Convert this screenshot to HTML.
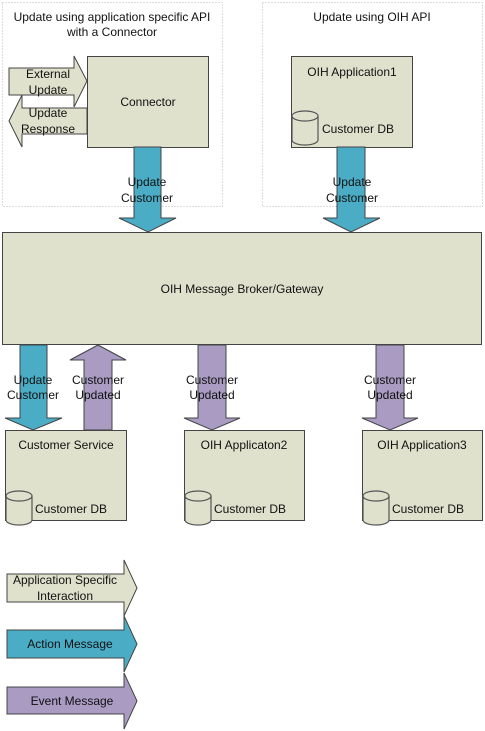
<!DOCTYPE html>
<html><head><style>body{margin:0;background:#fff}svg{display:block}text{font-family:"Liberation Sans",sans-serif;font-size:12px;fill:#111}</style></head>
<body>
<svg width="485" height="731" viewBox="0 0 485 731" xmlns="http://www.w3.org/2000/svg">
<g fill="none" stroke="#bbb" stroke-dasharray="1,2">
<rect x="2.5" y="2.5" width="220" height="204"/>
<rect x="262.5" y="2.5" width="220" height="204"/>
</g>
<g stroke="#444" stroke-width="1">
<polygon points="9,68 74,68 74,56 87,81 74,107 74,95 9,95" fill="#dfe1cc"/>
<polygon points="87,108 87,134 22,134 22,147 9,121 22,95 22,108" fill="#dfe1cc"/>
<rect x="87.5" y="56.5" width="121" height="91" fill="#dfe1cc"/>
<rect x="291.5" y="56.5" width="121" height="91" fill="#dfe1cc"/>
<polygon points="134,147 161,147 161,218 176,218 148,232 119,218 134,218" fill="#4bacc6"/>
<polygon points="337,147 365,147 365,218 380,218 351,232 323,218 337,218" fill="#4bacc6"/>
<rect x="2.5" y="232.5" width="479" height="112" fill="#dfe1cc"/>
<polygon points="20,345 47,345 47,418 62,418 33,430 5,418 20,418" fill="#4bacc6"/>
<polygon points="84,430 112,430 112,360 126,360 98,345 70,360 84,360" fill="#a99bc2"/>
<polygon points="198,345 226,345 226,418 240,418 212,430 184,418 198,418" fill="#a99bc2"/>
<polygon points="376,345 404,345 404,418 418,418 390,430 362,418 376,418" fill="#a99bc2"/>
<rect x="5.5" y="430.5" width="121" height="90" fill="#dfe1cc"/>
<rect x="184.5" y="430.5" width="120" height="90" fill="#dfe1cc"/>
<rect x="362.5" y="430.5" width="120" height="90" fill="#dfe1cc"/>
<polygon points="7,574 124,574 124,560 137,588 124,616 124,602 7,602" fill="#dfe1cc"/>
<polygon points="7,630 124,630 124,616 137,644 124,672 124,658 7,658" fill="#4bacc6"/>
<polygon points="7,687 124,687 124,673 137,701 124,729 124,714 7,714" fill="#a99bc2"/>
</g>
<g fill="#dfe1cc" stroke="#555" stroke-width="1.2">
<path d="M292,116 v24 a13,5 0 0 0 26,0 v-24"/><ellipse cx="305" cy="116" rx="13" ry="5"/>
<path d="M6,496 v24 a13,5 0 0 0 26,0 v-24"/><ellipse cx="19" cy="496" rx="13" ry="5"/>
<path d="M185,496 v24 a13,5 0 0 0 26,0 v-24"/><ellipse cx="198" cy="496" rx="13" ry="5"/>
<path d="M363,496 v24 a13,5 0 0 0 26,0 v-24"/><ellipse cx="376" cy="496" rx="13" ry="5"/>
</g>
<g text-anchor="middle">
<text x="112" y="21">Update using application specific API</text>
<text x="112" y="36">with a Connector</text>
<text x="372" y="21">Update using OIH API</text>
<text x="48" y="78">External</text><text x="48" y="94">Update</text>
<text x="48" y="117">Update</text><text x="48" y="133">Response</text>
<text x="148" y="106">Connector</text>
<text x="352" y="76">OIH Application1</text>
<text x="147" y="186">Update</text><text x="147" y="202">Customer</text>
<text x="352" y="186">Update</text><text x="352" y="202">Customer</text>
<text x="242" y="293">OIH Message Broker/Gateway</text>
<text x="33" y="384">Update</text><text x="33" y="399">Customer</text>
<text x="98" y="384">Customer</text><text x="98" y="399">Updated</text>
<text x="212" y="384">Customer</text><text x="212" y="399">Updated</text>
<text x="390" y="384">Customer</text><text x="390" y="399">Updated</text>
<text x="66" y="449">Customer Service</text>
<text x="244" y="449">OIH Applicaton2</text>
<text x="422" y="449">OIH Application3</text>
<text x="65" y="584">Application Specific</text>
<text x="65" y="600">Interaction</text>
<text x="70" y="648">Action Message</text>
<text x="72" y="705">Event Message</text>
</g>
<text x="322" y="133">Customer DB</text>
<text x="35" y="513">Customer DB</text>
<text x="214" y="513">Customer DB</text>
<text x="392" y="513">Customer DB</text>
</svg>
</body></html>
